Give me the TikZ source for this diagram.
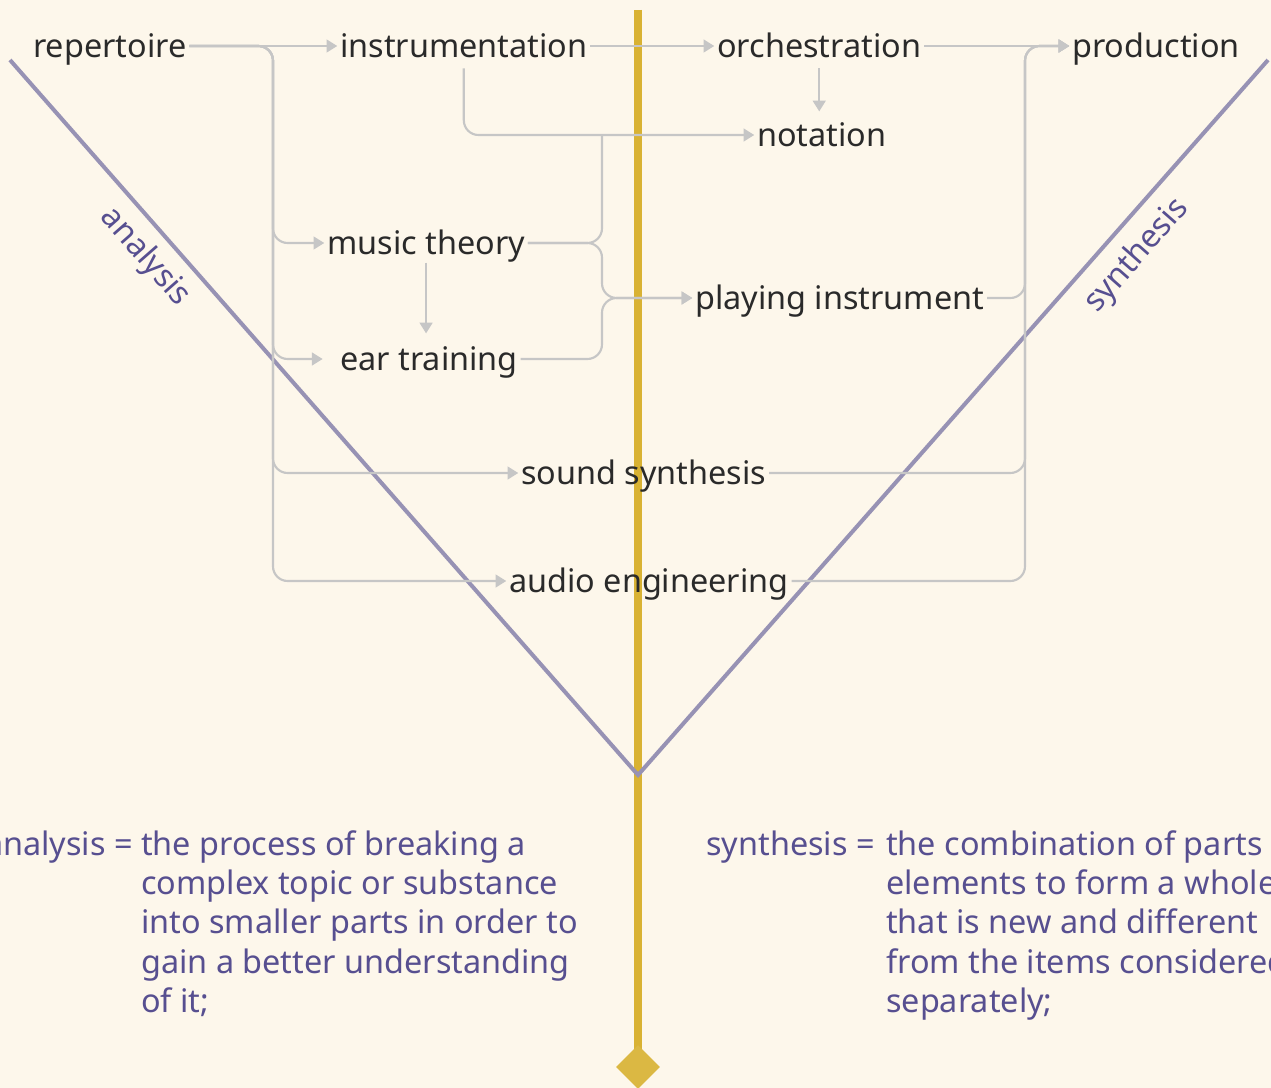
\documentclass[tikz,border=0pt]{standalone}
\usepackage{fontspec}
\setmainfont{Noto Sans}
\usetikzlibrary{arrows.meta,shapes.geometric}
\definecolor{bg}{HTML}{FDF7EB}
\definecolor{gold}{HTML}{D9B233}
\definecolor{golddia}{HTML}{DBB843}
\definecolor{vline}{HTML}{9792B4}
\definecolor{conncol}{HTML}{C6C6C6}
\definecolor{txt}{HTML}{2A2A2A}
\definecolor{deftxt}{HTML}{574F90}
\newcommand\nodefont{\fontsize{24.3}{28}\selectfont}
\newcommand\deffont{\fontsize{24.3}{29.6}\selectfont}
\begin{document}
\begin{tikzpicture}[x=0.75pt,y=-0.75pt,
  lbl/.style={font=\nodefont, text=txt, inner xsep=2pt, inner ysep=0pt,
    text height=17pt, text depth=0pt, anchor=west},
  conn/.style={draw=conncol, line width=1.6pt, rounded corners=11pt,
    -{Triangle[length=8pt,width=9.5pt]}},
  vlab/.style={font=\fontsize{24}{28}\selectfont, text=deftxt, inner sep=0pt},
  deflab/.style={font=\deffont, text=deftxt, inner sep=0pt}]
\useasboundingbox (0,0) rectangle (1271,1088);
\clip (0,0) rectangle (1271,1088);
\fill[bg] (0,0) rectangle (1271,1088);

% central axis
\draw[gold, line width=6.3pt] (638,10) -- (638,1052);
\node[diamond, fill=golddia, draw=none, inner sep=0pt, minimum size=33pt] (dia) at (638,1067) {};

% V
\draw[vline, line width=3pt, line join=miter] (10,60) -- (638,775) -- (1268,60);
\node[vlab, rotate=-48.7] (labA) at (145,257) {analysis};
\node[vlab, rotate=48.7] (labS) at (1137,256) {synthesis};

% nodes
\node[lbl] (rep)   at (30.3,46)  {repertoire};
\node[lbl] (instr) at (337.3,46) {instrumentation};
\node[lbl] (orch)  at (714.3,46) {orchestration};
\node[lbl] (prod)  at (1069.3,46) {production};
\node[lbl] (nota)  at (754.3,135) {notation};
\node[lbl] (mt)    at (324.3,243) {music theory};
\node[lbl] (ear)   at (337.3,359) {ear training};
\node[lbl] (play)  at (692.3,298) {playing instrument};
\node[lbl] (ss)    at (518.3,473) {sound synthesis};
\node[lbl] (ae)    at (506.3,581) {audio engineering};

% bus coordinates
\coordinate (busL) at (273,46);
\coordinate (busT) at (602,135);
\coordinate (busP) at (602,298);
\coordinate (busR) at (1025,46);

% connectors
\draw[conn] (rep.east) -- (instr.west);
\draw[conn] (rep.east) -- (busL) |- (mt.west);
\draw[conn, shorten >=11pt] (rep.east) -- (busL) |- (ear.west);
\draw[conn] (rep.east) -- (busL) |- (ss.west);
\draw[conn] (rep.east) -- (busL) |- (ae.west);

\draw[conn] (instr.east) -- (orch.west);
\draw[conn] ([yshift=-8pt]instr.south) |- (nota.west);
\draw[conn] (orch.east) -- (prod.west);
\draw[conn, shorten <=8pt, shorten >=9pt] (orch.south) -- (orch.south |- nota.north);

\draw[conn, shorten <=6pt, shorten >=10.5pt] (mt.south) -- (mt.south |- ear.north);
\draw[conn, arrows=-] (mt.east) -| (busT);
\draw[conn] (mt.east) -| (busP) -- (play.west);
\draw[conn] (ear.east) -| (busP) -- (play.west);

\draw[conn] (play.east) -| (busR) -- (prod.west);
\draw[conn] (ss.east) -| (busR) -- (prod.west);
\draw[conn] (ae.east) -| (busR) -- (prod.west);

% definitions
\node[deflab, anchor=base east] (dA) at (133,855) {analysis =};
\node[deflab, anchor=base west] (dAt) at (141,855) {\deffont\begin{tabular}[t]{@{}l@{}}
the process of breaking a\\
complex topic or substance\\
into smaller parts in order to\\
gain a better understanding\\
of it;\end{tabular}};
\node[deflab, anchor=base east] (dS) at (875,855) {synthesis =};
\node[deflab, anchor=base west] (dSt) at (886,855) {\deffont\begin{tabular}[t]{@{}l@{}}
the combination of parts or\\
elements to form a whole\\
that is new and different\\
from the items considered\\
separately;\end{tabular}};
\end{tikzpicture}
\end{document}
